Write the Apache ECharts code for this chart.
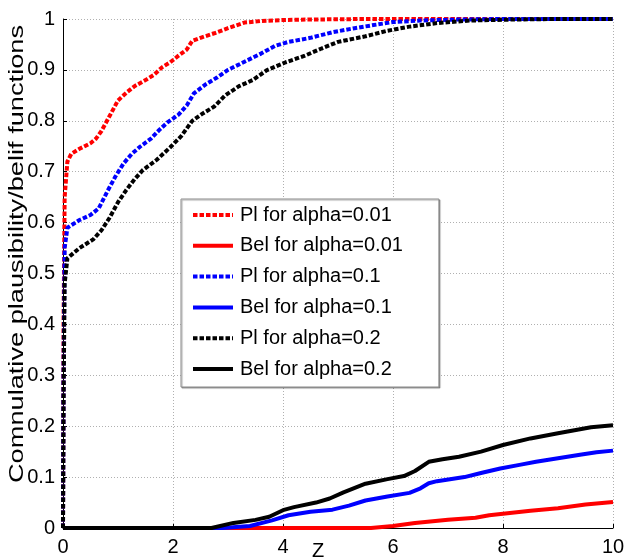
<!DOCTYPE html>
<html>
<head>
<meta charset="utf-8">
<script src="https://cdn.jsdelivr.net/npm/echarts@6/dist/echarts.min.js"></script>
<style>
  html, body { margin: 0; padding: 0; background: #fff; }
  #chart { width: 625px; height: 559px; }
</style>
</head>
<body>
<div id="chart"></div>
<script>
// Axis ticks
const xTicks = [0, 2, 4, 6, 8, 10];
const yTicks = [0, 0.1, 0.2, 0.3, 0.4, 0.5, 0.6, 0.7, 0.8, 0.9, 1];

// Series names
const seriesNames = [
  'Pl for alpha=0.01', 'Bel for alpha=0.01',
  'Pl for alpha=0.1', 'Bel for alpha=0.1',
  'Pl for alpha=0.2', 'Bel for alpha=0.2'
];

// Cumulative plausibility, alpha = 0.01  [z, value]
const plAlpha001 = [
  [0, 0], [0.01, 0.4], [0.03, 0.65], [0.08, 0.72], [0.15, 0.735], [0.3, 0.745],
  [0.5, 0.756], [0.6, 0.765], [0.7, 0.78], [0.85, 0.81], [1.0, 0.84], [1.15, 0.855],
  [1.3, 0.868], [1.5, 0.88], [1.65, 0.89], [1.8, 0.905], [1.95, 0.915], [2.1, 0.928],
  [2.25, 0.94], [2.35, 0.957], [2.5, 0.963], [2.75, 0.972], [3.0, 0.982], [3.3, 0.993],
  [3.6, 0.996], [4.0, 0.998], [4.5, 0.999], [5.5, 1], [10, 1]
];
// Cumulative belief, alpha = 0.01
const belAlpha001 = [
  [0, 0], [5.6, 0], [6.0, 0.004], [6.4, 0.01], [7.0, 0.016], [7.5, 0.02], [7.75, 0.025],
  [8.0, 0.028], [8.5, 0.034], [9.0, 0.039], [9.5, 0.046], [10, 0.051]
];
// Cumulative plausibility, alpha = 0.1
const plAlpha01 = [
  [0, 0], [0.01, 0.3], [0.03, 0.55], [0.08, 0.59], [0.3, 0.605], [0.5, 0.615],
  [0.65, 0.628], [0.8, 0.66], [0.95, 0.69], [1.1, 0.716], [1.25, 0.735], [1.4, 0.749],
  [1.6, 0.765], [1.75, 0.782], [1.9, 0.797], [2.1, 0.812], [2.25, 0.83], [2.38, 0.854],
  [2.6, 0.872], [2.8, 0.885], [3.0, 0.9], [3.3, 0.916], [3.6, 0.932], [3.85, 0.947],
  [4.1, 0.955], [4.5, 0.963], [4.9, 0.974], [5.3, 0.982], [5.7, 0.989], [6.0, 0.994],
  [6.5, 0.997], [7.2, 0.999], [8, 1], [10, 1]
];
// Cumulative belief, alpha = 0.1
const belAlpha01 = [
  [0, 0], [2.9, 0], [3.4, 0.004], [3.8, 0.015], [4.1, 0.025], [4.5, 0.032], [4.9, 0.036],
  [5.2, 0.044], [5.5, 0.054], [5.9, 0.062], [6.3, 0.069], [6.5, 0.078], [6.65, 0.088],
  [6.8, 0.092], [7.3, 0.1], [7.6, 0.108], [7.95, 0.117], [8.3, 0.124], [8.6, 0.13],
  [9.0, 0.137], [9.4, 0.144], [9.7, 0.149], [10, 0.152]
];
// Cumulative plausibility, alpha = 0.2
const plAlpha02 = [
  [0, 0], [0.01, 0.25], [0.03, 0.48], [0.08, 0.53], [0.3, 0.55], [0.55, 0.567],
  [0.7, 0.585], [0.85, 0.61], [1.0, 0.64], [1.15, 0.664], [1.3, 0.685], [1.45, 0.703],
  [1.7, 0.723], [1.95, 0.748], [2.15, 0.77], [2.35, 0.8], [2.55, 0.815], [2.75, 0.828],
  [2.95, 0.85], [3.2, 0.868], [3.45, 0.88], [3.7, 0.899], [4.05, 0.915], [4.4, 0.928],
  [4.7, 0.942], [5.0, 0.955], [5.5, 0.966], [5.9, 0.977], [6.3, 0.985], [6.8, 0.992],
  [7.4, 0.997], [8.2, 0.999], [9, 1], [10, 1]
];
// Cumulative belief, alpha = 0.2
const belAlpha02 = [
  [0, 0], [2.7, 0], [3.1, 0.01], [3.5, 0.016], [3.75, 0.022], [4.0, 0.035], [4.2, 0.041],
  [4.6, 0.05], [4.85, 0.058], [5.1, 0.07], [5.5, 0.087], [5.9, 0.096], [6.2, 0.102],
  [6.4, 0.112], [6.65, 0.13], [6.9, 0.135], [7.2, 0.14], [7.6, 0.15], [8.0, 0.163],
  [8.5, 0.176], [9.0, 0.186], [9.3, 0.192], [9.6, 0.198], [10, 0.202]
];

const FONT = '"Liberation Sans", Arial, sans-serif';
const dotted = [4.5, 2];

function curve(name, data, color, dashed) {
  return {
    name: name,
    type: 'line',
    data: data,
    showSymbol: false,
    symbol: 'none',
    clip: false,
    silent: true,
    lineStyle: { color: color, width: 4, type: dashed ? dotted : 'solid', cap: 'butt' },
    itemStyle: { color: color },
    z: 3
  };
}

const chart = echarts.init(document.getElementById('chart'), null, { renderer: 'canvas' });

chart.setOption({
  animation: false,
  backgroundColor: '#fff',
  textStyle: { fontFamily: FONT },
  grid: { left: 63, right: 12, top: 19, bottom: 31, containLabel: false, outerBoundsMode: 'none' },
  xAxis: {
    type: 'value',
    min: xTicks[0],
    max: xTicks[xTicks.length - 1],
    interval: 2,
    name: 'Z',
    nameLocation: 'middle',
    nameGap: 13,
    nameMoveOverlap: false,
    nameTextStyle: { fontSize: 20, color: '#000', fontFamily: FONT, padding: [0, 40, 0, 0] },
    axisLine: { show: true, lineStyle: { color: '#000', width: 1 } },
    axisTick: { show: true, inside: true, length: 4, lineStyle: { color: '#000' } },
    axisLabel: { fontSize: 20, color: '#000', fontFamily: FONT, margin: 9 },
    splitLine: { show: true, lineStyle: { color: '#b0b0b0', type: [1, 2], width: 1 } }
  },
  yAxis: {
    type: 'value',
    min: yTicks[0],
    max: yTicks[yTicks.length - 1],
    interval: 0.1,
    axisLine: { show: true, lineStyle: { color: '#000', width: 1 } },
    axisTick: { show: true, inside: true, length: 4, lineStyle: { color: '#000' } },
    axisLabel: { fontSize: 20, color: '#000', fontFamily: FONT, margin: 8 },
    splitLine: { show: true, lineStyle: { color: '#b0b0b0', type: [1, 2], width: 1 } }
  },
  graphic: [{
    // y-axis title, stretched along its length
    type: 'text',
    x: 17,
    y: 254,
    rotation: Math.PI / 2,
    scaleX: 1.36,
    silent: true,
    style: {
      text: 'Comnulative plausibility/belif functions',
      fontSize: 20,
      fontFamily: FONT,
      fill: '#000',
      align: 'center',
      verticalAlign: 'middle'
    }
  }],
  legend: {
    data: seriesNames,
    orient: 'vertical',
    left: 181,
    top: 199,
    padding: [6, 36, 8, 10],
    itemWidth: 40,
    itemHeight: 20,
    itemGap: 10.8,
    backgroundColor: '#fff',
    borderColor: '#8c8c8c',
    borderWidth: 1,
    borderRadius: 0,
    shadowColor: 'rgba(0,0,0,0.35)',
    shadowOffsetX: 1,
    shadowOffsetY: 1,
    shadowBlur: 1,
    selectedMode: false,
    itemStyle: { opacity: 0 },
    lineStyle: { width: 4 },
    textStyle: { fontSize: 20, color: '#000', fontFamily: FONT, lineHeight: 20, padding: [0, 0, 0, 2] }
  },
  series: [
    curve(seriesNames[0], plAlpha001, '#ff0000', true),
    curve(seriesNames[1], belAlpha001, '#ff0000', false),
    curve(seriesNames[2], plAlpha01, '#0000ff', true),
    curve(seriesNames[3], belAlpha01, '#0000ff', false),
    curve(seriesNames[4], plAlpha02, '#000000', true),
    curve(seriesNames[5], belAlpha02, '#000000', false)
  ]
});
</script>
</body>
</html>
